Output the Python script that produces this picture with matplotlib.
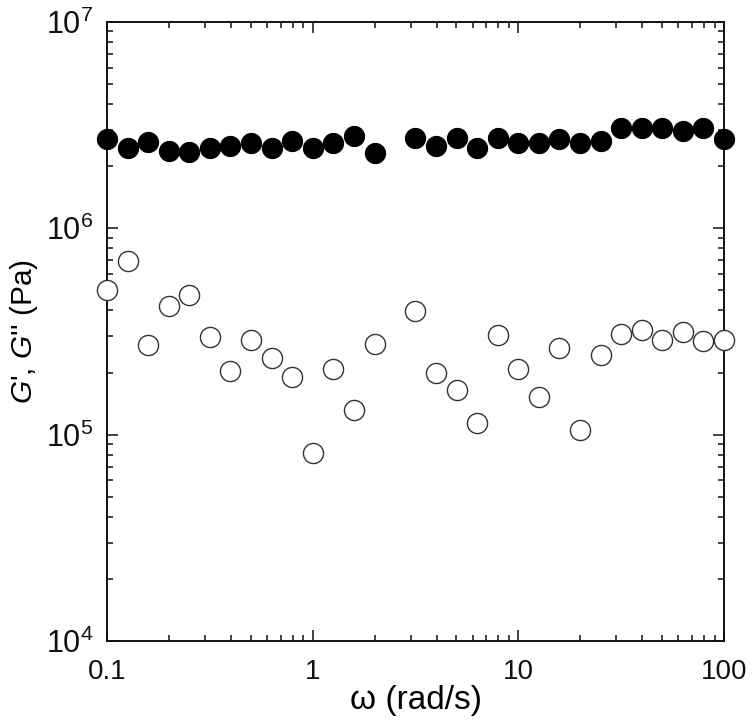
import math
import matplotlib
matplotlib.use('Agg')
import matplotlib.pyplot as plt
from matplotlib.ticker import LogLocator, FuncFormatter, NullFormatter

plt.rcParams['font.family'] = ['Liberation Sans', 'DejaVu Sans']
plt.rcParams['mathtext.fontset'] = 'custom'
plt.rcParams['mathtext.rm'] = 'Liberation Sans'
plt.rcParams['mathtext.it'] = 'Liberation Sans:italic'

# angular frequency (rad/s); 2.51 rad/s is missing in the data
omega = [0.1, 0.126, 0.158, 0.2, 0.251, 0.316, 0.398, 0.501, 0.631, 0.794,
         1.0, 1.26, 1.58, 2.0, 3.16, 3.98, 5.01, 6.31, 7.94,
         10, 12.6, 15.8, 20, 25.1, 31.6, 39.8, 50.1, 63.1, 79.4, 100]

# storage modulus G' (Pa)
g_storage = [2.70e6, 2.45e6, 2.61e6, 2.37e6, 2.34e6, 2.44e6, 2.50e6, 2.60e6, 2.44e6, 2.64e6,
             2.44e6, 2.60e6, 2.80e6, 2.33e6, 2.74e6, 2.51e6, 2.74e6, 2.45e6, 2.74e6,
             2.60e6, 2.60e6, 2.71e6, 2.60e6, 2.65e6, 3.05e6, 3.05e6, 3.07e6, 2.97e6, 3.08e6, 2.70e6]

# loss modulus G'' (Pa)
g_loss = [5.04e5, 6.97e5, 2.73e5, 4.18e5, 4.77e5, 2.98e5, 2.04e5, 2.87e5, 2.36e5, 1.91e5,
          8.11e4, 2.08e5, 1.32e5, 2.76e5, 3.96e5, 1.99e5, 1.64e5, 1.14e5, 3.03e5,
          2.07e5, 1.53e5, 2.64e5, 1.05e5, 2.44e5, 3.06e5, 3.22e5, 2.88e5, 3.16e5, 2.84e5, 2.87e5]

fig = plt.figure(figsize=(7.52, 7.28), dpi=100)
ax = fig.add_axes([0.1423, 0.1195, 0.8205, 0.8503])

ax.plot(omega, g_storage, 'o', ms=14.5, mfc='black', mec='black', mew=0.8,
        linestyle='none', clip_on=False, zorder=3)
ax.plot(omega, g_loss, 'o', ms=14.5, mfc='white', mec='#333333', mew=1.0,
        linestyle='none', clip_on=False, zorder=3)

ax.set_xscale('log')
ax.set_yscale('log')
ax.set_xlim(0.1, 100)
ax.set_ylim(1e4, 1e7)

ax.xaxis.set_major_locator(LogLocator(base=10, numticks=10))
ax.xaxis.set_minor_locator(LogLocator(base=10, subs=range(2, 10), numticks=20))
ax.yaxis.set_major_locator(LogLocator(base=10, numticks=10))
ax.yaxis.set_minor_locator(LogLocator(base=10, subs=range(2, 10), numticks=20))

ax.xaxis.set_major_formatter(FuncFormatter(lambda v, p: '%g' % v))
ax.yaxis.set_major_formatter(FuncFormatter(
    lambda v, p: r'$\mathregular{10^{%d}}$' % round(math.log10(v))))
ax.xaxis.set_minor_formatter(NullFormatter())
ax.yaxis.set_minor_formatter(NullFormatter())

ax.tick_params(which='both', direction='in', top=True, right=True, width=1.1, colors='#111111')
ax.tick_params(which='major', length=8)
ax.tick_params(axis='x', which='major', pad=13, labelsize=20)
ax.tick_params(axis='y', which='major', pad=10, labelsize=22)
ax.tick_params(which='minor', length=4.5)

for s in ax.spines.values():
    s.set_linewidth(1.4)
    s.set_color('#111111')

ax.set_xlabel('ω (rad/s)', fontsize=24, labelpad=0)
ax.set_ylabel(r"$G$', $G$'' (Pa)", fontsize=21.5, labelpad=4)

fig.savefig('out.png', dpi=100)
